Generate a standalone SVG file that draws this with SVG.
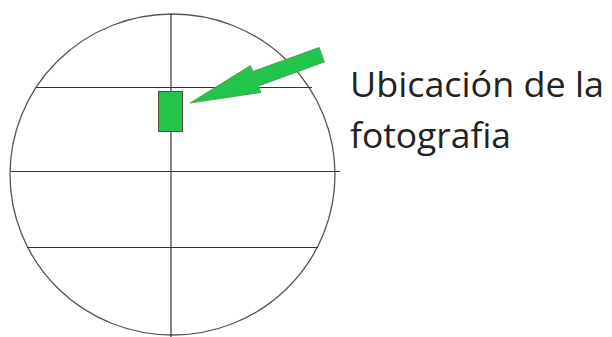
<svg xmlns="http://www.w3.org/2000/svg" width="612" height="337" viewBox="0 0 612 337">
<style>
.ln{stroke:#333;stroke-width:1.2;fill:none}
.circ{stroke:#555;stroke-width:1.3;fill:none}
.lbl{font-family:"Open Sans","Noto Sans",sans-serif;font-size:35.5px;fill:#222}
</style>
<rect width="612" height="337" fill="#fff"/>
<g id="globe">
<ellipse class="circ" cx="172.5" cy="174.5" rx="162.5" ry="160.5"/>
</g>
<g id="connectors">
<line class="ln" x1="171" y1="14" x2="171" y2="337"/>
<line class="ln" x1="36" y1="87.5" x2="312" y2="87.5"/>
<line class="ln" x1="11" y1="171.5" x2="340" y2="171.5"/>
<line class="ln" x1="27" y1="247.5" x2="318" y2="247.5"/>
</g>
<g id="photo">
<rect x="158.5" y="91.5" width="24" height="40" fill="#22c44a" stroke="#5a4a3a" stroke-width="1"/>
</g>
<g id="arrow">
<polygon points="190,103 250.5,65.5 252.8,71.5 319.1,47.4 324.4,61.9 258.5,86 260.9,92.5" fill="#22c44a" stroke="#3a9a4a" stroke-width="0.8"/>
</g>
<g id="label">
<text class="lbl" x="350" y="97" textLength="254" lengthAdjust="spacingAndGlyphs">Ubicación de la</text>
<text class="lbl" x="350" y="148" textLength="161" lengthAdjust="spacingAndGlyphs">fotografia</text>
</g>
</svg>
